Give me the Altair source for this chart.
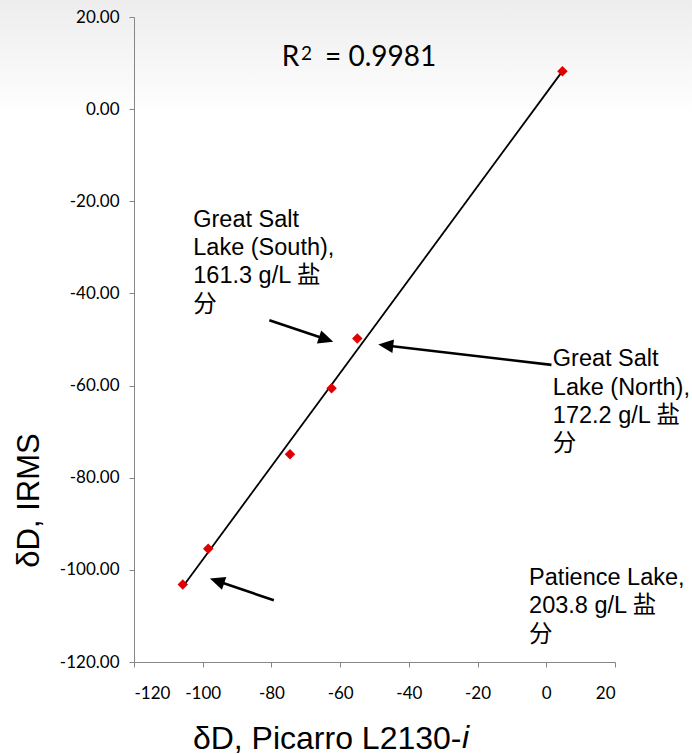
import math
import altair as alt
import pandas as pd

# ---------------- data ----------------
x_picarro = [4.7, -55.0, -62.5, -74.6, -98.4, -105.8]
y_irms = [8.2, -49.8, -60.6, -74.9, -95.4, -103.2]

x_ticks = [-120, -100, -80, -60, -40, -20, 0, 20]
y_ticks = [20, 0, -20, -40, -60, -80, -100, -120]

r2_text = ["R", "2", "= 0.9981"]
r2_x = [-77.0, -71.4, -64.4]
r2_y = [9.4, 10.6, 9.4]
r2_size = [28, 19, 28]

note_text = [
    "Great Salt\nLake (South),\n161.3 g/L 盐\n分",
    "Great Salt\nLake (North),\n172.2 g/L 盐\n分",
    "Patience Lake,\n203.8 g/L 盐\n分",
]
note_x = [-102.75, 1.9, -5.0]
note_y = [-25.5, -55.8, -103.3]

arrow_tail_x = [-80.6, 1.5, -79.3]
arrow_tail_y = [-45.8, -55.5, -106.6]
arrow_tip_x = [-62.0, -48.9, -97.9]
arrow_tip_y = [-50.5, -51.1, -101.9]

# ---------------- layout ----------------
W, H = 481, 645
X_DOM = [-120, 20]
Y_DOM = [-120, 20]
sx = W / (X_DOM[1] - X_DOM[0])
sy = H / (Y_DOM[1] - Y_DOM[0])

pts = pd.DataFrame({"x": x_picarro, "y": y_irms})

rows = []
for tx, ty, hx, hy in zip(arrow_tail_x, arrow_tail_y, arrow_tip_x, arrow_tip_y):
    dxp = (hx - tx) * sx
    dyp = -(hy - ty) * sy
    L = math.hypot(dxp, dyp)
    ang = math.degrees(math.atan2(dxp, -dyp)) % 360
    back = 10.0 / L
    rows.append({
        "tx": tx, "ty": ty, "hx": hx, "hy": hy,
        "ex": hx - (hx - tx) * back, "ey": hy - (hy - ty) * back,
        "ang": ang,
    })
arrows = pd.DataFrame(rows)
notes = pd.DataFrame({"t": note_text, "x": note_x, "y": note_y})
r2 = pd.DataFrame({"t": r2_text, "x": r2_x, "y": r2_y, "s": r2_size})

xs = alt.Scale(domain=X_DOM, nice=False, zero=False)
ys = alt.Scale(domain=Y_DOM, nice=False, zero=False)

AX = dict(domainColor="#868686", tickColor="#868686", domainWidth=1, tickWidth=1,
          tickSize=5, grid=False, labelFont="Lato", labelFontSize=17,
          labelColor="#000000", zindex=1)

xaxis = alt.Axis(values=x_ticks,
                 labelExpr="(datum.value < 0 ? '-' : '') + format(abs(datum.value), 'd')",
                 labelPadding=18,
                 title="δD, Picarro L2130-", titleFont="Liberation Sans",
                 titleFontSize=32, titleFontWeight="normal", titleColor="#000000",
                 titleAlign="right", titleBaseline="alphabetic", titleX=327, titleY=86,
                 titleAnchor="start", **AX)
yaxis = alt.Axis(values=y_ticks,
                 labelExpr="(datum.value < 0 ? '-' : '') + format(abs(datum.value), '.2f')",
                 labelPadding=10,
                 title="δD, IRMS", titleFont="Liberation Sans",
                 titleFontSize=31, titleFontWeight="normal", titleColor="#000000",
                 titleAngle=270, titleAlign="center", titleBaseline="alphabetic",
                 titleX=-96, titleY=483, **AX)

bg = alt.Chart(pd.DataFrame({"a": [0]})).mark_rect(
    color=alt.LinearGradient(
        gradient="linear", x1=0, y1=0, x2=0, y2=1,
        stops=[alt.GradientStop(color="#ededed", offset=0),
               alt.GradientStop(color="#ffffff", offset=1)]),
).encode(x=alt.value(-134), x2=alt.value(558), y=alt.value(-17), y2=alt.value(100))

fit = alt.Chart(pts).transform_regression("x", "y").mark_line(
    color="#000000", strokeWidth=1.8
).encode(x=alt.X("x:Q", scale=xs, axis=xaxis), y=alt.Y("y:Q", scale=ys, axis=yaxis))

dots = alt.Chart(pts).mark_point(
    shape="diamond", filled=True, color="#e00000", size=110, opacity=1
).encode(x=alt.X("x:Q", scale=xs), y=alt.Y("y:Q", scale=ys))

shafts = alt.Chart(arrows).mark_rule(color="#000000", strokeWidth=2.6).encode(
    x=alt.X("tx:Q", scale=xs), y=alt.Y("ty:Q", scale=ys), x2="ex:Q", y2="ey:Q")

heads = alt.Chart(arrows).mark_point(
    shape="M0,0L-0.9,2L0.9,2Z", filled=True, color="#000000", size=225, opacity=1
).encode(x=alt.X("hx:Q", scale=xs), y=alt.Y("hy:Q", scale=ys), angle=alt.Angle("ang:Q", scale=None))

note_marks = alt.Chart(notes).mark_text(
    align="left", baseline="alphabetic", lineBreak="\n", lineHeight=28.4,
    font="Liberation Sans, Noto Sans CJK SC", fontSize=23.5, color="#000000"
).encode(x=alt.X("x:Q", scale=xs), y=alt.Y("y:Q", scale=ys), text="t:N")

r2_mark = alt.Chart(r2).mark_text(
    align="left", baseline="alphabetic", font="Lato", color="#000000"
).encode(x=alt.X("x:Q", scale=xs), y=alt.Y("y:Q", scale=ys), text="t:N",
         size=alt.Size("s:Q", scale=None))

italic_i = alt.Chart(pd.DataFrame({"t": ["i"]})).mark_text(
    align="left", baseline="alphabetic", font="Liberation Sans", fontSize=32,
    fontStyle="italic", color="#000000"
).encode(x=alt.value(328), y=alt.value(731), text="t:N")

chart = alt.layer(bg, fit, dots, shafts, heads, note_marks, r2_mark, italic_i).properties(
    width=W, height=H,
    autosize=alt.AutoSizeParams(type="none"),
    padding={"left": 134, "top": 17, "right": 77, "bottom": 92},
    background="#ffffff",
).configure_view(stroke=None)

chart.save("out.html", embed_options={"renderer": "svg", "actions": False})
